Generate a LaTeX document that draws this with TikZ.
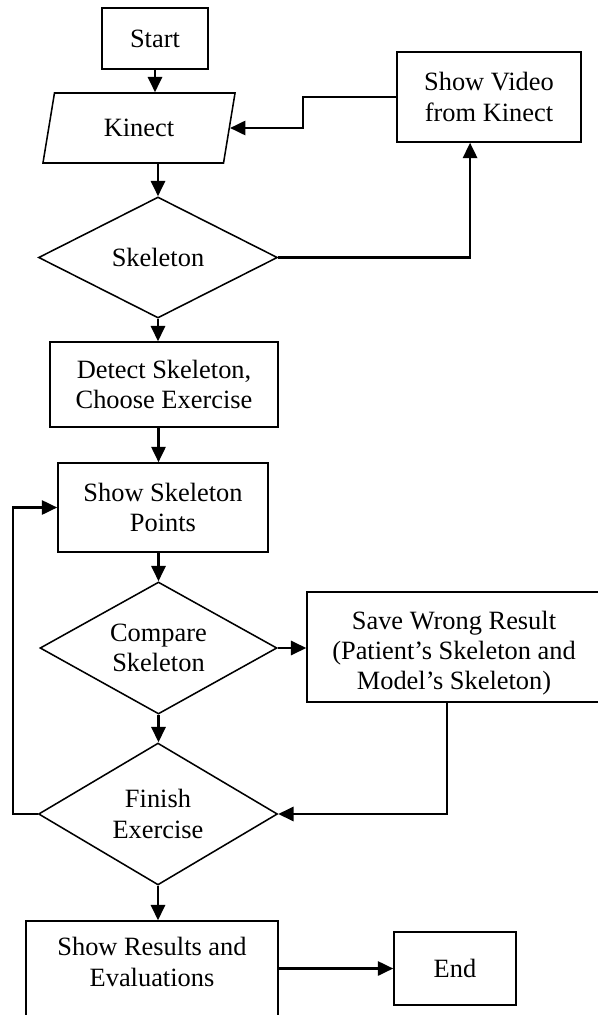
\documentclass[tikz,border=0pt]{standalone}
\usepackage{fontspec}
\setmainfont{Liberation Serif}
\usepackage{xcolor}
\definecolor{Black}{RGB}{0,0,0}
\definecolor{White}{RGB}{255,255,255}
\usepackage{tikz}
\usetikzlibrary{shapes.geometric, arrows.meta}

\begin{document}
\begin{tikzpicture}[x=0.4545pt, y=-0.4545pt,
		font=\fontsize{12}{13.8}\selectfont,
		process/.style={draw=Black, fill=White, line width=0.7pt, align=center, inner sep=2pt},
		decision/.style={diamond, draw=Black, fill=White, line width=0.7pt, align=center, aspect=2, inner sep=0pt},
		io/.style={trapezium, trapezium left angle=57, trapezium right angle=123, trapezium stretches body, draw=Black, fill=White, line width=0.7pt, inner sep=0pt},
		flow/.style={draw=Black, line width=1pt, -{Triangle[length=7pt, width=6.5pt]}}]
		
		\useasboundingbox (0,0) rectangle (598,1015);
		
		% Boxes
		\node[process, minimum width=48.2pt, minimum height=27.7pt] (start) at (155,38.5) {Start};
		\node[io, minimum width=87.3pt, minimum height=31.8pt] (kinect) at (139,128) {Kinect};
		\node[decision, minimum width=108.6pt, minimum height=55pt] (skeleton) at (158,257.5) {Skeleton};
		\node[process, minimum width=83.6pt, minimum height=40.9pt] (video) at (489,97) {Show Video\\from Kinect};
		\node[process, minimum width=103.6pt, minimum height=38.6pt] (detect) at (164,384.5) {Detect Skeleton,\\Choose Exercise};
		\node[process, minimum width=95.5pt, minimum height=40.5pt] (points) at (163,507.5) {Show Skeleton\\Points};
		\node[decision, minimum width=107.7pt, minimum height=60pt] (compare) at (158.5,648) {Compare\\Skeleton};
		\node[process, minimum width=133.6pt, minimum height=50pt, text height=41pt, text depth=2pt] (save) at (454,647) {Save Wrong Result\\(Patient’s Skeleton and\\Model’s Skeleton)};
		\node[decision, minimum width=108.6pt, minimum height=64.5pt] (finish) at (158,814) {Finish\\Exercise};
		\node[process, minimum width=114.5pt, minimum height=62.7pt, text height=23pt, text depth=26.6pt] (results) at (152,990) {Show Results and\\Evaluations};
		\node[process, minimum width=55.5pt, minimum height=33.2pt] (end) at (455,968.5) {End};
		
		% Arrows
		\draw[flow] (start.south) -- (start.south |- kinect.north);
		\draw[flow] (kinect.south -| skeleton.north) -- (skeleton.north);
		\draw[flow] (skeleton.east) -| ([xshift=-8.6pt]video.south);
		\coordinate (jog) at (303,110);
		\draw[flow] (video.west) -| (jog) |- (kinect.east);
		\draw[flow] (skeleton.south) -- (skeleton.south |- detect.north);
		\draw[flow] (detect.south -| compare.north) -- (compare.north |- points.north);
		\draw[flow] (points.south -| compare.north) -- (compare.north);
		\draw[flow] (compare.east) -- (compare.east -| save.west);
		\draw[flow] (compare.south) -- (compare.south |- finish.north);
		\draw[flow] ([xshift=-3.2pt]save.south) |- (finish.east);
		\draw[flow] (finish.west) -- ++(-11.4pt,0) |- (points.west);
		\draw[flow] (finish.south) -- (finish.south |- results.north);
		\draw[flow] (results.east |- end.west) -- (end.west);
		
	\end{tikzpicture}
\end{document}
